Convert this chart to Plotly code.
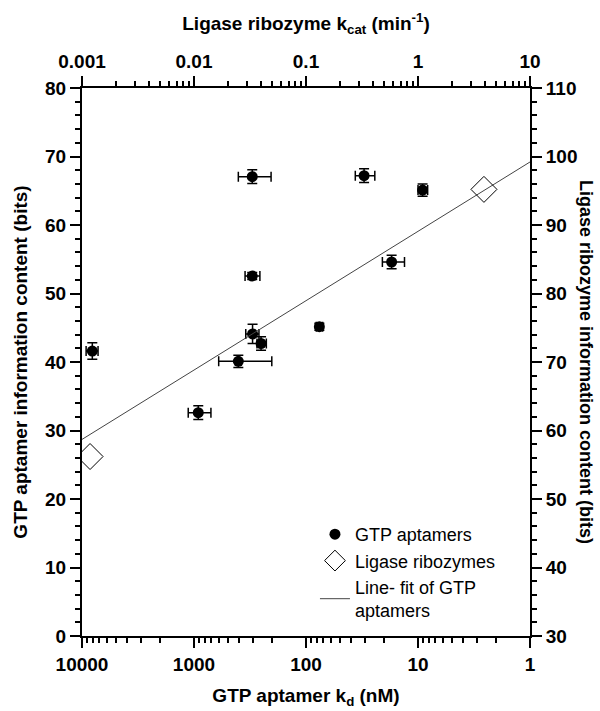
import plotly.graph_objects as go

# GTP aptamers
kd = [8090, 916, 402, 300, 252, 302, 76, 302, 30.3, 17.2, 9.1]
kd_err_plus = [1100, 210, 200, 45, 22, 48, 5, 100, 6, 3.6, 0.9]
kd_err_minus = [900, 210, 200, 37, 26, 44, 5, 97, 6, 4.0, 0.9]
gtp_info = [41.6, 32.6, 40.1, 44.1, 42.7, 52.55, 45.15, 67.05, 67.2, 54.6, 65.1]
gtp_info_err = [1.2, 1.0, 0.9, 1.4, 1.0, 0.5, 0.5, 1.0, 1.0, 1.0, 0.9]

# Ligase ribozymes
kcat = [0.00118, 3.88]
lig_info = [56.2, 95.2]

# Line fit of GTP aptamers
fit_kd = [10000, 1]
fit_info = [28.7, 69.2]

# Tick labels
kd_ticks = [10000, 1000, 100, 10, 1]
kd_ticklabels = ["10000", "1000", "100", "10", "1"]
kcat_ticks = [0.001, 0.01, 0.1, 1, 10]
kcat_ticklabels = ["0.001", "0.01", "0.1", "1", "10"]
kd_minor = [m * 10 ** e for e in range(0, 4) for m in range(2, 10)]
kcat_minor = [m * 10.0 ** e for e in range(-3, 1) for m in range(2, 10)]

FONT = "Liberation Sans, Arial, sans-serif"

fig = go.Figure()

fig.add_trace(go.Scatter(
    x=kd, y=gtp_info, mode="markers", name="GTP aptamers",
    marker=dict(symbol="circle", size=11, color="black"),
    error_x=dict(type="data", array=kd_err_plus, arrayminus=kd_err_minus,
                 color="black", thickness=1.5, width=5),
    error_y=dict(type="data", array=gtp_info_err, color="black", thickness=1.5, width=5),
    xaxis="x", yaxis="y",
))

fig.add_trace(go.Scatter(
    x=kcat, y=lig_info, mode="markers", name="Ligase ribozymes",
    marker=dict(symbol="diamond-open", size=20, color="black", line=dict(width=1, color="black")),
    xaxis="x2", yaxis="y2",
))

fig.add_trace(go.Scatter(
    x=fit_kd, y=fit_info, mode="lines", name="Line- fit of GTP<br>aptamers",
    line=dict(color="#444444", width=1),
    xaxis="x", yaxis="y",
))

tickfont = dict(family=FONT, size=19, color="black", weight="bold")
titlefont = dict(family=FONT, size=19, color="black", weight="bold")

common = dict(showline=True, linecolor="black", linewidth=2,
              ticks="outside", ticklen=10, tickwidth=1.5, tickcolor="black",
              showgrid=False, zeroline=False, tickfont=tickfont, automargin=False)
minor_style = dict(ticks="outside", ticklen=5, tickcolor="black")

fig.update_layout(
    width=600, height=711,
    margin=dict(l=82, r=70, t=88, b=75),
    paper_bgcolor="white", plot_bgcolor="white",
    showlegend=True,
    legend=dict(x=0.52, y=0.219, xanchor="left", yanchor="top",
                bgcolor="rgba(0,0,0,0)", borderwidth=0,
                font=dict(family=FONT, size=18, color="black"),
                tracegroupgap=5),
    xaxis=dict(**common, type="log", range=[4, 0], side="bottom",
               tickmode="array", tickvals=kd_ticks, ticktext=kd_ticklabels,
               minor=dict(**minor_style, tickmode="array", tickvals=kd_minor),
               title=dict(text="GTP aptamer k<sub>d</sub> (nM)", font=titlefont, standoff=15)),
    xaxis2=dict(**common, type="log", range=[-3, 1], side="top", overlaying="x",
                tickmode="array", tickvals=kcat_ticks, ticktext=kcat_ticklabels,
                minor=dict(**minor_style, tickmode="array", tickvals=kcat_minor),
                title=dict(text="Ligase ribozyme k<sub>cat</sub> (min<sup>-1</sup>)", font=titlefont, standoff=16)),
    yaxis=dict(**common, range=[0, 80], side="left", dtick=10,
               minor=dict(**minor_style, dtick=2),
               title=dict(text="GTP aptamer information content (bits)", font=titlefont, standoff=12)),
    yaxis2=dict(**common, range=[30, 110], side="right", overlaying="y", anchor="x", dtick=10,
                minor=dict(**minor_style, dtick=2)),
    annotations=[dict(
        text="<b>Ligase ribozyme information content (bits)</b>",
        xref="paper", yref="paper", x=(586 - 82) / 448, y=0.5, textangle=90,
        showarrow=False, font=dict(family=FONT, size=18, color="black"),
        xanchor="center", yanchor="middle")],
)

fig.write_html("out.html", config={"displayModeBar": False},
               post_script="document.body.style.margin='0';")
